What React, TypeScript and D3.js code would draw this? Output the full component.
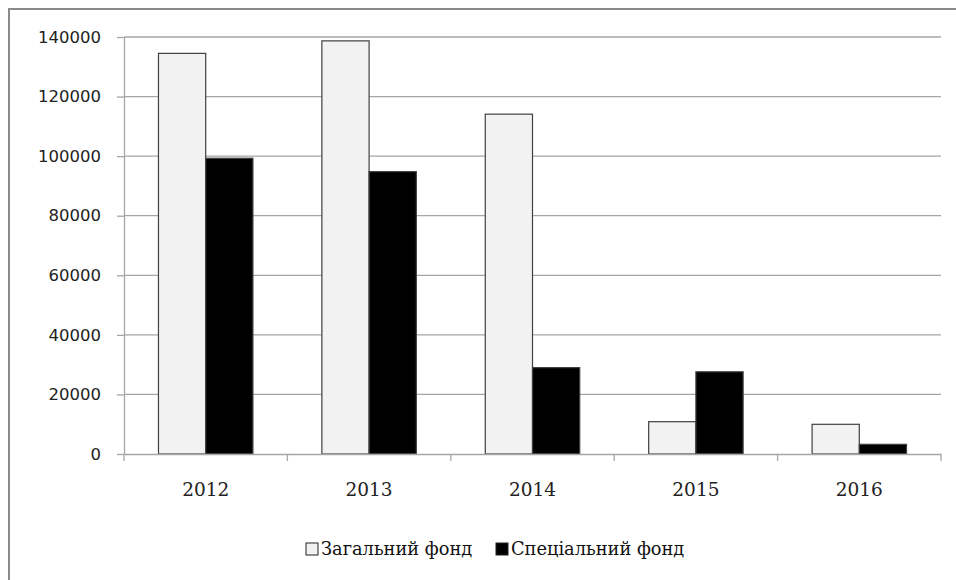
import React, { useRef, useEffect } from "react";
import * as d3 from "d3";

const years = ["2012", "2013", "2014", "2015", "2016"];
const seriesNames = ["Загальний фонд", "Спеціальний фонд"];
const generalFund = [134500, 138700, 114100, 10850, 9970];
const specialFund = [99300, 94800, 29000, 27600, 3250];
const yTicks = [0, 20000, 40000, 60000, 80000, 100000, 120000, 140000];

const fills = ["#f2f2f2", "#000000"];

const W = 956;
const H = 580;
const margin = { left: 124, right: 15, top: 37, bottom: 126 };

const App = () => {
  const ref = useRef<SVGSVGElement>(null);

  useEffect(() => {
    const svg = d3.select(ref.current);
    svg.selectAll("*").remove();

    const plotRight = W - margin.right;
    const plotBottom = H - margin.bottom;

    // frame
    svg
      .append("rect")
      .attr("x", 9)
      .attr("y", 9)
      .attr("width", W + 10)
      .attr("height", H + 10)
      .attr("fill", "white")
      .attr("stroke", "#8a8a8a")
      .attr("stroke-width", 2);

    const x0 = d3
      .scaleBand()
      .domain(years)
      .range([margin.left, plotRight])
      .padding(0);

    const x1 = d3
      .scaleBand()
      .domain(seriesNames)
      .range([0, x0.bandwidth()])
      .paddingInner(0)
      .paddingOuter(0.73);

    const y = d3.scaleLinear().domain([0, 140000]).range([plotBottom, margin.top]);

    // gridlines
    svg
      .append("g")
      .selectAll("line")
      .data(yTicks.slice(1))
      .join("line")
      .attr("x1", margin.left)
      .attr("x2", plotRight)
      .attr("y1", (d) => y(d))
      .attr("y2", (d) => y(d))
      .attr("stroke", "#a6a6a6")
      .attr("stroke-width", 1.3);

    // y axis
    const yAxis = svg
      .append("g")
      .attr("transform", `translate(${margin.left},0)`)
      .call(
        d3
          .axisLeft(y)
          .tickValues(yTicks)
          .tickFormat(d3.format("d"))
          .tickSize(7)
          .tickPadding(16)
          .tickSizeOuter(0)
      );
    yAxis.select(".domain").attr("stroke", "#a6a6a6").attr("stroke-width", 1.3);
    yAxis.selectAll(".tick line").attr("stroke", "#a6a6a6").attr("stroke-width", 1.3);
    yAxis
      .selectAll(".tick text")
      .attr("font-family", "DejaVu Sans")
      .attr("font-size", 16.5)
      .attr("fill", "#222");

    const data = years.map((yr, i) => ({ yr, vals: [generalFund[i], specialFund[i]] }));

    // bars
    const groups = svg
      .append("g")
      .selectAll("g")
      .data(data)
      .join("g")
      .attr("transform", (d) => `translate(${x0(d.yr)},0)`);

    groups
      .selectAll("rect")
      .data((d) => d.vals.map((v, j) => ({ name: seriesNames[j], v, j })))
      .join("rect")
      .attr("x", (d) => x1(d.name)!)
      .attr("y", (d) => y(d.v))
      .attr("width", x1.bandwidth())
      .attr("height", (d) => plotBottom - y(d.v))
      .attr("fill", (d) => fills[d.j])
      .attr("stroke", "#404040")
      .attr("stroke-width", 1.2);

    // x axis
    const xAxis = svg
      .append("g")
      .attr("transform", `translate(0,${plotBottom})`)
      .call(d3.axisBottom(x0).tickSize(0).tickPadding(29).tickSizeOuter(0));
    xAxis.select(".domain").attr("stroke", "#a6a6a6").attr("stroke-width", 1.3);
    xAxis
      .selectAll(".tick text")
      .attr("font-family", "DejaVu Serif")
      .attr("font-size", 18.5)
      .attr("fill", "#222");

    // category boundary ticks
    const bounds = years.map((yr) => x0(yr)!).concat([plotRight]);
    svg
      .append("g")
      .selectAll("line")
      .data(bounds)
      .join("line")
      .attr("x1", (d) => d)
      .attr("x2", (d) => d)
      .attr("y1", plotBottom)
      .attr("y2", plotBottom + 7)
      .attr("stroke", "#a6a6a6")
      .attr("stroke-width", 1.3);

    // legend
    const legendX = [306, 496];
    const legend = svg
      .append("g")
      .selectAll("g")
      .data(seriesNames)
      .join("g")
      .attr("transform", (d, i) => `translate(${legendX[i]},543)`);
    legend
      .append("rect")
      .attr("width", 12)
      .attr("height", 12)
      .attr("fill", (d, i) => fills[i])
      .attr("stroke", "#222")
      .attr("stroke-width", 1);
    legend
      .append("text")
      .attr("x", 15)
      .attr("y", 12)
      .attr("font-family", "DejaVu Serif")
      .attr("font-size", 17.8)
      .attr("fill", "#111")
      .text((d) => d);
  }, []);

  return (
    <svg
      ref={ref}
      width={W}
      height={H}
      style={{ position: "absolute", left: 0, top: 0, display: "block" }}
    />
  );
};

export default App;
